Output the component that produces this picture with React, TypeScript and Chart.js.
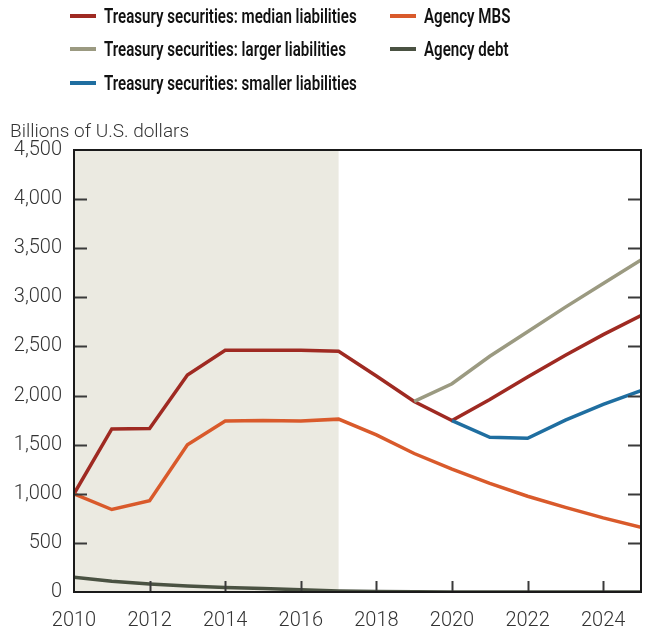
import React, { useEffect, useRef } from "react";
import { Chart, registerables } from "chart.js";
Chart.register(...registerables);

const years = [2010, 2011, 2012, 2013, 2014, 2015, 2016, 2017, 2018, 2019, 2020, 2021, 2022, 2023, 2024, 2025];
const medianLiabilities = [1000, 1660, 1665, 2210, 2460, 2460, 2460, 2450, 2200, 1940, 1745, 1960, 2190, 2410, 2620, 2815];
const largerLiabilities = [null, null, null, null, null, null, null, null, null, 1940, 2120, 2400, 2650, 2900, 3140, 3380];
const smallerLiabilities = [null, null, null, null, null, null, null, null, null, null, 1745, 1575, 1565, 1750, 1910, 2050];
const agencyMBS = [1000, 840, 930, 1500, 1740, 1745, 1740, 1760, 1600, 1410, 1250, 1105, 975, 862, 755, 658];
const agencyDebt = [150, 110, 82, 62, 45, 35, 22, 10, 4, 2, 1, 1, 1, 1, 1, 1];
const historyEnd = 2017;
const yTicks = [0, 500, 1000, 1500, 2000, 2500, 3000, 3500, 4000, 4500];
const xTicks = [2010, 2012, 2014, 2016, 2018, 2020, 2022, 2024];

const COLORS = {
  median: "#9f2a22",
  larger: "#9b9a81",
  smaller: "#1f6ea0",
  mbs: "#d95a2b",
  debt: "#4a5242",
  shade: "#ebeae1",
};

const legendItems = [
  { label: "Treasury securities: median liabilities", color: COLORS.median, x: 70, y: 16 },
  { label: "Treasury securities: larger liabilities", color: COLORS.larger, x: 70, y: 49 },
  { label: "Treasury securities: smaller liabilities", color: COLORS.smaller, x: 70, y: 83 },
  { label: "Agency MBS", color: COLORS.mbs, x: 390, y: 16 },
  { label: "Agency debt", color: COLORS.debt, x: 390, y: 49 },
];

const toPoints = (arr: (number | null)[]) =>
  years.map((yr, i) => ({ x: yr, y: arr[i] })).filter((p) => p.y !== null);

const framePlugin = {
  id: "frame",
  beforeDatasetsDraw(chart: any) {
    const { ctx, chartArea, scales } = chart;
    const x = scales.x;
    const x0 = x.getPixelForValue(years[0]);
    const x1 = x.getPixelForValue(historyEnd);
    ctx.save();
    ctx.fillStyle = COLORS.shade;
    ctx.fillRect(x0, chartArea.top, x1 - x0, chartArea.bottom - chartArea.top);
    ctx.restore();
  },
  afterDatasetsDraw(chart: any) {
    const { ctx, chartArea, scales } = chart;
    const { left, right, top, bottom } = chartArea;
    ctx.save();
    ctx.strokeStyle = "#3a3a3a";
    ctx.lineWidth = 2;
    scales.y.ticks.forEach((t: any) => {
      if (t.value <= 0 || t.value >= 4500) return;
      const py = Math.round(scales.y.getPixelForValue(t.value)) + 0.5;
      ctx.beginPath();
      ctx.moveTo(left, py);
      ctx.lineTo(left + 13, py);
      ctx.moveTo(right, py);
      ctx.lineTo(right - 13, py);
      ctx.stroke();
    });
    scales.x.ticks.forEach((t: any) => {
      if (t.value <= years[0]) return;
      const px = Math.round(scales.x.getPixelForValue(t.value)) + 0.5;
      ctx.beginPath();
      ctx.moveTo(px, bottom);
      ctx.lineTo(px, bottom - 11);
      ctx.stroke();
    });
    ctx.strokeStyle = "#1a1a1a";
    ctx.lineWidth = 2;
    ctx.strokeRect(left, top, right - left, bottom - top);
    ctx.restore();
  },
};

export default function App() {
  const ref = useRef<HTMLCanvasElement>(null);
  useEffect(() => {
    if (!ref.current) return;
    const tickFont = { family: "Roboto", size: 20, weight: 300 as any };
    const chart = new Chart(ref.current, {
      type: "line",
      data: {
        datasets: [
          { label: "Agency debt", data: toPoints(agencyDebt), borderColor: COLORS.debt },
          { label: "Agency MBS", data: toPoints(agencyMBS), borderColor: COLORS.mbs },
          { label: "Treasury securities: larger liabilities", data: toPoints(largerLiabilities), borderColor: COLORS.larger },
          { label: "Treasury securities: smaller liabilities", data: toPoints(smallerLiabilities), borderColor: COLORS.smaller },
          { label: "Treasury securities: median liabilities", data: toPoints(medianLiabilities), borderColor: COLORS.median },
        ].map((d) => ({ ...d, borderWidth: 3.5, pointRadius: 0, tension: 0, fill: false })) as any,
      },
      options: {
        animation: false,
        responsive: false,
        layout: { padding: { top: 150, right: 6, left: 0, bottom: 0 } },
        plugins: { legend: { display: false }, tooltip: { enabled: false } },
        scales: {
          x: {
            type: "linear",
            min: years[0],
            max: years[years.length - 1],
            grid: { display: false, drawTicks: false },
            border: { display: false },
            afterBuildTicks: (s: any) => {
              s.ticks = xTicks.map((v) => ({ value: v }));
            },
            afterFit: (s: any) => {
              s.height = 35;
            },
            ticks: {
              autoSkip: false,
              maxRotation: 0,
              padding: 17,
              color: "#333",
              font: tickFont,
              callback: (v: any) => String(v),
            },
          },
          y: {
            min: 0,
            max: 4500,
            grid: { display: false, drawTicks: false },
            border: { display: false },
            afterBuildTicks: (s: any) => {
              s.ticks = yTicks.map((v) => ({ value: v }));
            },
            afterFit: (s: any) => {
              s.width = 74;
            },
            ticks: {
              padding: 12,
              color: "#333",
              font: tickFont,
              callback: (v: any) => Number(v).toLocaleString("en-US"),
            },
          },
        },
      },
      plugins: [framePlugin],
    });
    return () => chart.destroy();
  }, []);

  return (
    <div style={{ position: "fixed", left: 0, top: 0, width: 647, height: 627, background: "#fff", fontFamily: "Roboto" }}>
      <canvas ref={ref} width={647} height={627} style={{ position: "absolute", left: 0, top: 0, width: 647, height: 627 }} />
      {legendItems.map((it) => (
        <div key={it.label} style={{ position: "absolute", left: it.x, top: it.y - 13, height: 26, display: "flex", alignItems: "center", whiteSpace: "nowrap" }}>
          <div style={{ width: 26, height: 4, background: it.color, marginRight: 8 }} />
          <span style={{ display: "inline-block", fontSize: 20, fontWeight: 600, color: "#111", transform: "scaleX(0.755)", transformOrigin: "left center" }}>{it.label}</span>
        </div>
      ))}
      <div style={{ position: "absolute", left: 10, top: 119, fontSize: 19, fontWeight: 300, color: "#333", whiteSpace: "nowrap" }}>
        Billions of U.S. dollars
      </div>
    </div>
  );
}
